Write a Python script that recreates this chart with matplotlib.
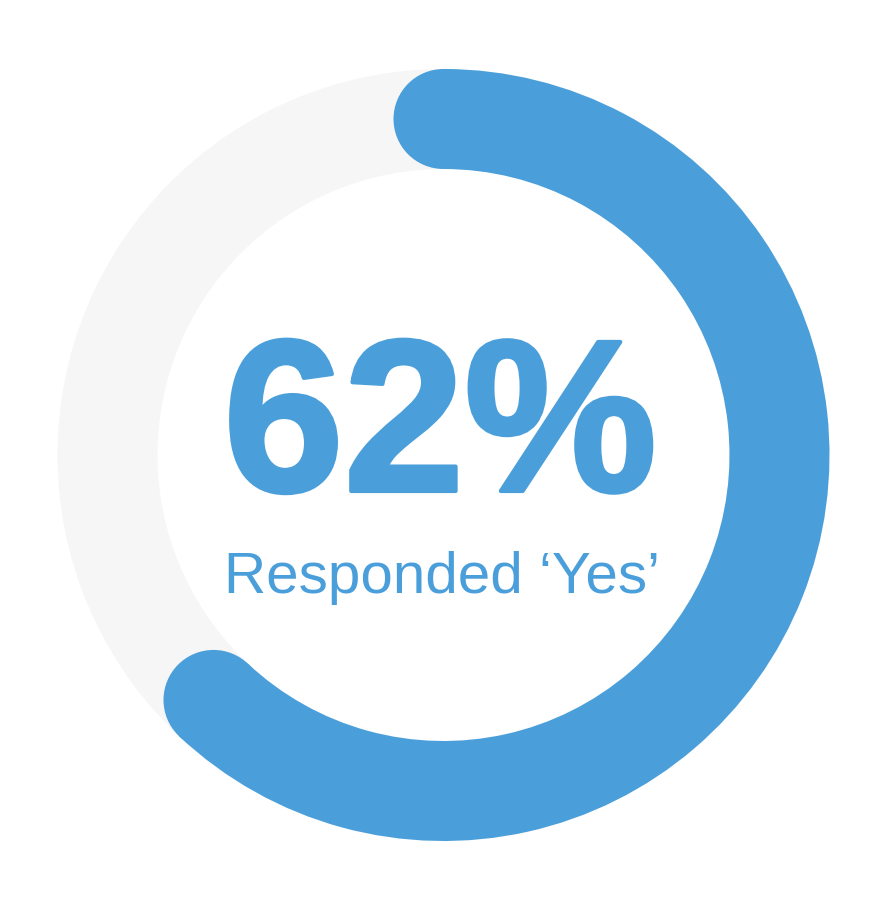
"""Single-value donut gauge: share of respondents who answered 'Yes'."""

import numpy as np
import matplotlib
matplotlib.use("Agg")
import matplotlib.pyplot as plt
import matplotlib.patheffects as pe
from matplotlib.patches import Wedge, Circle

# data
value = 62            # percent
total = 100
label = "Responded \u2018Yes\u2019"

BLUE = "#4A9FDB"
TRACK = "#F6F6F6"

W, H = 894, 910
fig = plt.figure(figsize=(W / 100, H / 100), dpi=100)
ax = fig.add_axes([0, 0, 1, 1])
ax.set_xlim(0, W)
ax.set_ylim(H, 0)
ax.set_aspect("equal")
ax.axis("off")

cx, cy = 443.5, 455
r_out, ring = 386, 100
r_mid = r_out - ring / 2

# background track (full circle)
ax.add_patch(Wedge((cx, cy), r_out, 0, 360, width=ring, facecolor=TRACK, edgecolor="none"))

# progress arc, clockwise from 12 o'clock (y axis is inverted, so angles flip)
start = -90
end = start + 360 * value / total
ax.add_patch(Wedge((cx, cy), r_out, start, end, width=ring, facecolor=BLUE, edgecolor="none"))
for ang in (start, end):
    a = np.deg2rad(ang)
    ax.add_patch(Circle((cx + r_mid * np.cos(a), cy + r_mid * np.sin(a)), ring / 2,
                        facecolor=BLUE, edgecolor="none"))

# heavier weight than plain bold, like the reference
ax.text(440, 491, f"{value}%", ha="center", va="baseline", color=BLUE,
        fontsize=156, fontweight="bold", family="Liberation Sans",
        path_effects=[pe.withStroke(linewidth=3, foreground=BLUE)])
ax.text(442, 593, label, ha="center", va="baseline", color=BLUE,
        fontsize=42, family="Liberation Sans")

fig.savefig("out.png", dpi=100, facecolor="white")
